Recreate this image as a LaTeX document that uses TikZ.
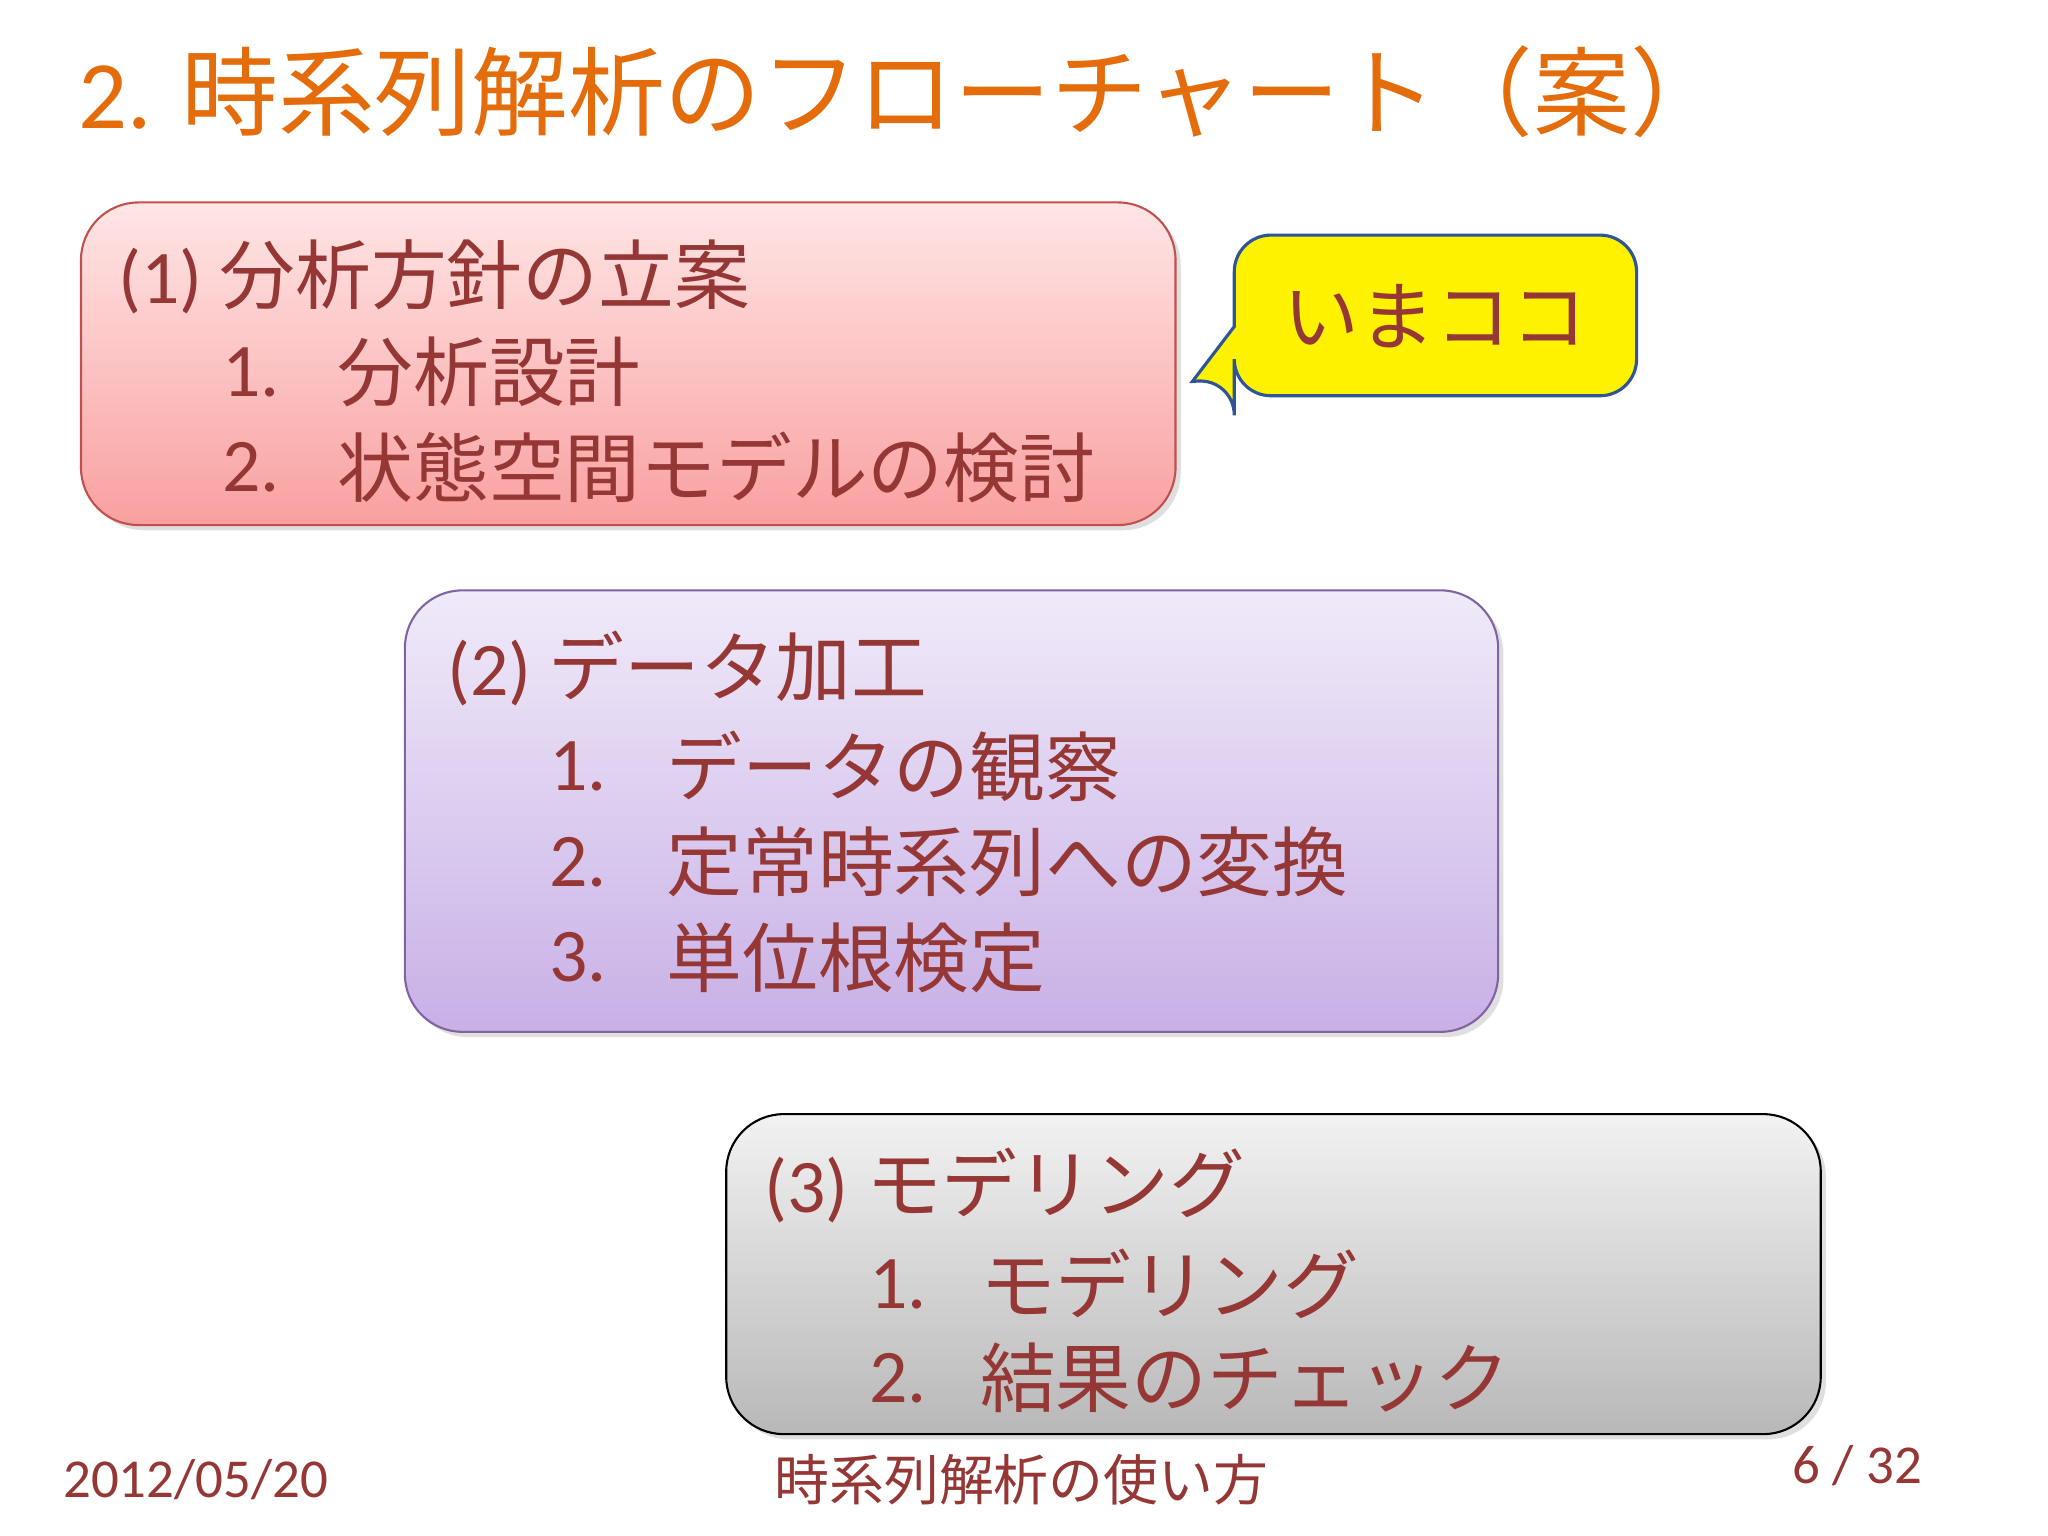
\documentclass[tikz,border=0pt]{standalone}
\usepackage{fontspec}
\setmainfont{Carlito}
\newfontfamily\cjk{Noto Sans CJK JP}
\usetikzlibrary{shadows}
\definecolor{txt}{HTML}{953735}
\definecolor{ttl}{HTML}{E46C0A}
\tikzset{
 box/.style={rounded corners=22pt, line width=0.8pt, drop shadow={opacity=0.25,shadow xshift=2pt,shadow yshift=-2pt}},
 t/.style={anchor=west, inner sep=0pt, text=txt, font=\fontsize{29}{32}\selectfont},
 foot/.style={inner sep=0pt, text=txt, font=\fontsize{21}{24}\selectfont}
}
\begin{document}
\begin{tikzpicture}[x=0.5pt,y=-0.5pt]
\useasboundingbox (0,0) rectangle (1568,1176);
\fill[white] (0,0) rectangle (1568,1176);
\node[anchor=west,inner sep=0pt,text=ttl,font=\fontsize{37}{40}\selectfont] (title) at (60,70) {2. {\cjk 時系列解析のフローチャート（案）}};
% box 1
\shade[box, top color=red!10, bottom color={rgb,255:red,249;green,160;blue,160}, draw={rgb,255:red,192;green,80;blue,77}] (62,155) rectangle (900,402);
\node[t] (a0) at (90,212) {(1) {\cjk 分析方針の立案}};
\node[t] (a1) at (170,285) {1.};\node[t] (a1t) at (258,285) {\cjk 分析設計};
\node[t] (a2) at (170,358) {2.};\node[t] (a2t) at (258,358) {\cjk 状態空間モデルの検討};
% callout
\draw[fill=yellow, draw={rgb,255:red,47;green,85;blue,151}, line width=1.2pt, rounded corners=14pt]
 (945,180) -- (1253,180) -- (1253,303) -- (945,303) -- (945,290) [sharp corners] -- (913,292) -- (945,250) [rounded corners=14pt] -- cycle;
\node[inner sep=0pt,text=txt,font=\fontsize{29}{32}\selectfont\cjk] (now) at (1099,242) {いまココ};
% box 2
\shade[box, top color={rgb,255:red,240;green,234;blue,249}, bottom color={rgb,255:red,200;green,176;blue,230}, draw={rgb,255:red,128;green,100;blue,162}] (310,452) rectangle (1147,790);
\node[t] (b0) at (342,512) {(2) {\cjk データ加工}};
\node[t] (b1) at (420,587) {1.};\node[t] (b1t) at (510,587) {\cjk データの観察};
\node[t] (b2) at (420,660) {2.};\node[t] (b2t) at (510,660) {\cjk 定常時系列への変換};
\node[t] (b3) at (420,733) {3.};\node[t] (b3t) at (510,733) {\cjk 単位根検定};
% box 3
\shade[box, top color={rgb,255:red,242;green,242;blue,242}, bottom color={rgb,255:red,184;green,184;blue,184}, draw=black] (556,853) rectangle (1394,1098);
\node[t] (c0) at (585,908) {(3) {\cjk モデリング}};
\node[t] (c1) at (665,983) {1.};\node[t] (c1t) at (750,983) {\cjk モデリング};
\node[t] (c2) at (665,1055) {2.};\node[t] (c2t) at (750,1055) {\cjk 結果のチェック};
% footer
\node[foot,anchor=west] (date) at (48,1133) {2012/05/20};
\node[foot] (ft) at (782,1133) {\cjk 時系列解析の使い方};
\node[foot,anchor=east] (pg) at (1472,1122) {6 / 32};
\end{tikzpicture}
\end{document}
